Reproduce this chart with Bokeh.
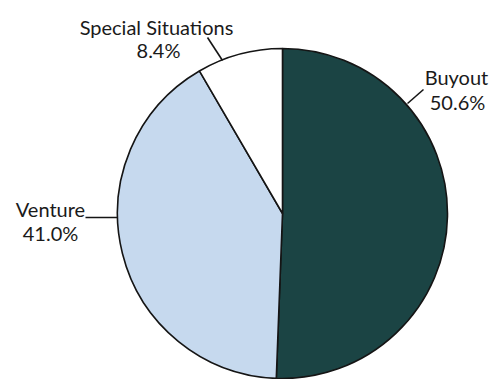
import math
from bokeh.plotting import figure
from bokeh.models import Range1d, ColumnDataSource
from bokeh.core.properties import value
from bokeh.embed import file_html
from bokeh.resources import INLINE

# ---- data ----
categories = ["Buyout", "Venture", "Special Situations"]
shares = [50.6, 41.0, 8.4]
share_labels = ["50.6%", "41.0%", "8.4%"]

# ---- style / layout ----
colors = ["#1b4444", "#c6d9ee", "#ffffff"]
W, H = 491, 379


def Y(px):
    return H - px


cx, cy, r = 282, Y(213), 165

# label layout (pixel positions: centre x, top of text line)
name_pos = [(456, 64), (50, 196), (156, 14)]
val_pos = [(457, 89), (50, 220), (158, 37)]
leaders = [((423, 89), (407, 103)), ((85, 217), (117, 217)), ((207, 37), (222, 60))]

total = sum(shares)
starts, ends = [], []
acc = 0.0
for s in shares:
    a0 = math.pi / 2 - 2 * math.pi * acc / total
    acc += s
    a1 = math.pi / 2 - 2 * math.pi * acc / total
    starts.append(a0)
    ends.append(a1)

src = ColumnDataSource(dict(cat=categories, start=starts, end=ends, color=colors))

p = figure(width=W, height=H, x_range=Range1d(0, W), y_range=Range1d(0, H),
           output_backend="svg", toolbar_location=None, min_border=0,
           background_fill_color="white", border_fill_color="white")
p.axis.visible = False
p.grid.visible = False
p.outline_line_color = None

p.wedge(x=cx, y=cy, radius=r, start_angle="start", end_angle="end", direction="clock",
        fill_color="color", line_color="#151515", line_width=1.6, source=src)

for (a, b) in leaders:
    p.line([a[0], b[0]], [Y(a[1]), Y(b[1])], line_color="#151515", line_width=1.6)

tsrc = ColumnDataSource(dict(
    x=[q[0] for q in name_pos] + [q[0] for q in val_pos],
    y=[Y(q[1]) for q in name_pos] + [Y(q[1]) for q in val_pos],
    t=categories + share_labels,
))
p.text(x="x", y="y", text="t", source=tsrc, text_align="center", text_baseline="top",
       text_font=value("Lato"), text_font_size="20px", text_color="#1a1a1a")

open("out.html", "w").write(file_html(p, INLINE))
